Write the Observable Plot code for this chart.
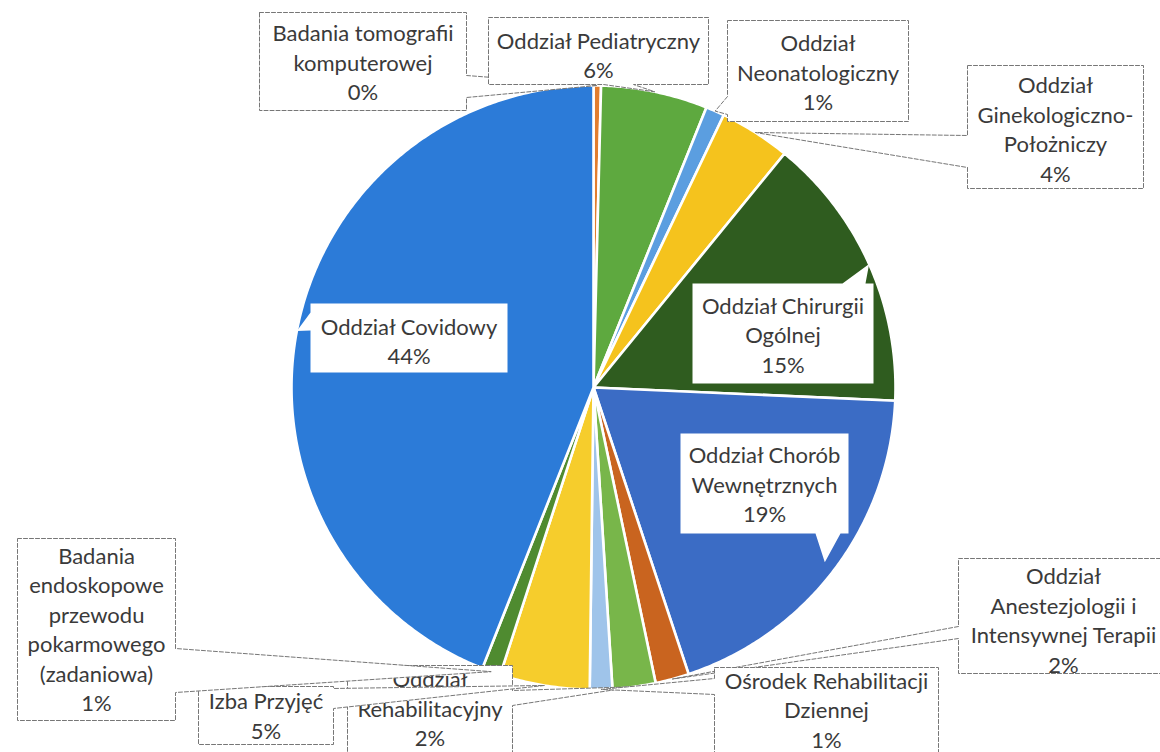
<!DOCTYPE html>
<html><head><meta charset="utf-8">
<script src="https://cdn.jsdelivr.net/npm/d3@7"></script>
<script src="https://cdn.jsdelivr.net/npm/@observablehq/plot@0.6"></script>
<style>html,body{margin:0;padding:0;background:#fff;overflow:hidden}#chart svg{display:block}</style>
</head><body><div id="chart"></div>
<script>
// ---- data ----
const categories = [
  "Badania tomografii komputerowej",
  "Oddział Pediatryczny",
  "Oddział Neonatologiczny",
  "Oddział Ginekologiczno-Położniczy",
  "Oddział Chirurgii Ogólnej",
  "Oddział Chorób Wewnętrznych",
  "Oddział Anestezjologii i Intensywnej Terapii",
  "Oddział Rehabilitacyjny",
  "Ośrodek Rehabilitacji Dziennej",
  "Izba Przyjęć",
  "Badania endoskopowe przewodu pokarmowego (zadaniowa)",
  "Oddział Covidowy"
];
const shares = [0.4, 5.7, 1.0, 3.8, 14.8, 19.2, 1.8, 2.3, 1.2, 4.8, 1.0, 44.0];
const labelLines = [
  ["Badania tomografii", "komputerowej"],
  ["Oddział Pediatryczny"],
  ["Oddział", "Neonatologiczny"],
  ["Oddział", "Ginekologiczno-", "Położniczy"],
  ["Oddział Chirurgii", "Ogólnej"],
  ["Oddział Chorób", "Wewnętrznych"],
  ["Oddział", "Anestezjologii i", "Intensywnej Terapii"],
  ["Oddział", "Rehabilitacyjny"],
  ["Ośrodek Rehabilitacji", "Dziennej"],
  ["Izba Przyjęć"],
  ["Badania", "endoskopowe", "przewodu", "pokarmowego", "(zadaniowa)"],
  ["Oddział Covidowy"]
];

// ---- styles ----
const sliceColors = ["#e27d2e", "#5ea93f", "#5b9ee0", "#f5c31d", "#2f5c1f", "#3b6cc5",
                     "#c9641f", "#78b64a", "#9fc4ea", "#f6cd2c", "#4f8b30", "#2c7bd8"];

// ---- layout (chart units, pie centre = 0,0, y up, pie radius = R) ----
const W = 1160, H = 752, CX = 593, CY = 387, R = 302;
// callout boxes: x0,x1 (left,right), yT,yB (top,bottom); wedge side + base; ty = text shift; inside = no border
const callouts = [
  {x0: -334, x1: -127, yT: 375, yB: 277, side: "right",  base: [312, 290], ty: 0},
  {x0: -105, x1: 115,  yT: 370, yB: 303, side: "bottom", base: [10, 40]},
  {x0: 134,  x1: 315,  yT: 367, yB: 266, side: "left",   base: [291, 273], ty: -0.5},
  {x0: 374,  x1: 550,  yT: 322, yB: 199, side: "left",   base: [252, 220], ty: -1},
  {x0: 99,   x1: 280,  yT: 104, yB: 4,   side: "top",    base: [249, 272], inside: true, ty: -0.5},
  {x0: 87,   x1: 255,  yT: -46, yB: -146, side: "bottom", base: [222, 247], inside: true, tipR: 0.96, ty: 0},
  {x0: 365,  x1: 575,  yT: -171, yB: -286, side: "left",  base: [-239, -251]},
  {x0: -246, x1: -81,  yT: -278, yB: -368, side: "right", base: [-303, -318], ty: 3},
  {x0: 121,  x1: 345,  yT: -280, yB: -373, side: "left",  base: [-291, -307], ty: 5},
  {x0: -395, x1: -260, yT: -299, yB: -357, side: "right", base: [-301, -321], ty: 1},
  {x0: -576, x1: -418, yT: -151, yB: -333, side: "right", base: [-261, -305], ty: 1.5},
  {x0: -283, x1: -86,  yT: 84,   yB: 15,   side: "left",  base: [75, 57], inside: true, ty: -2}
];

// ---- geometry from data ----
const arcs = d3.pie().sort(null).value(d => d)(shares);
const slicePts = arcs.flatMap((a, i) => {
  const n = Math.max(2, Math.ceil((a.endAngle - a.startAngle) / (Math.PI / 360)));
  const pts = [{k: categories[i], x: 0, y: 0}];
  for (let j = 0; j <= n; j++) {
    const t = a.startAngle + (a.endAngle - a.startAngle) * j / n;
    pts.push({k: categories[i], x: R * Math.sin(t), y: R * Math.cos(t)});
  }
  return pts;
});

function tipOf(i, f) {
  const a = (arcs[i].startAngle + arcs[i].endAngle) / 2;
  return {x: R * f * Math.sin(a), y: R * f * Math.cos(a)};
}

function calloutPolygon(c, tip) {
  const {x0, x1, yT, yB, side} = c;
  const [p, q] = c.base;
  const lo = Math.min(p, q), hi = Math.max(p, q);
  const pts = [];
  pts.push({x: x0, y: yT});
  if (side === "top") pts.push({x: lo, y: yT}, tip, {x: hi, y: yT});
  pts.push({x: x1, y: yT});
  if (side === "right") pts.push({x: x1, y: hi}, tip, {x: x1, y: lo});
  pts.push({x: x1, y: yB});
  if (side === "bottom") pts.push({x: hi, y: yB}, tip, {x: lo, y: yB});
  pts.push({x: x0, y: yB});
  if (side === "left") pts.push({x: x0, y: lo}, tip, {x: x0, y: hi});
  return pts;
}

const FS = 22, LH = 29.5;
const marks = [
  Plot.line(slicePts, {x: "x", y: "y", z: "k", fill: "k", stroke: "white", strokeWidth: 2.6,
                       strokeLinejoin: "round", curve: "linear-closed"})
];
callouts.forEach((c, i) => {
  const tip = tipOf(i, c.tipR ?? 1);
  const poly = calloutPolygon(c, tip);
  marks.push(Plot.line(poly, {x: "x", y: "y", fill: "white",
    stroke: c.inside ? "none" : "#767676", strokeWidth: 1, strokeDasharray: "4,2",
    curve: "linear-closed"}));
  const text = [...labelLines[i], Math.round(shares[i]) + "%"].join("\n");
  marks.push(Plot.text([{x: (c.x0 + c.x1) / 2, y: (c.yT + c.yB) / 2 + (c.ty ?? -3), t: text}],
    {x: "x", y: "y", text: "t", fontSize: FS, lineHeight: LH / FS, fill: "#3a3a3a"}));
});

const chart = Plot.plot({
  width: W, height: H,
  marginTop: 0, marginRight: 0, marginBottom: 0, marginLeft: 0,
  x: {domain: [-CX, W - CX], axis: null},
  y: {domain: [-(H - CY), CY], axis: null},
  color: {domain: categories, range: sliceColors},
  style: {fontFamily: "Lato, 'Open Sans', sans-serif", background: "white"},
  marks
});
document.getElementById("chart").append(chart);
</script>
</body></html>
